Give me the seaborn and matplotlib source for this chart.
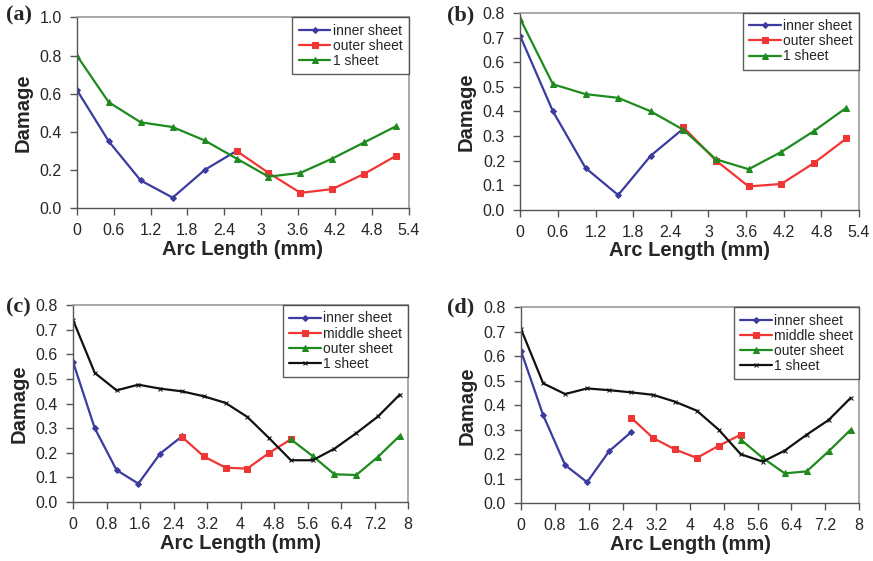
import numpy as np
import pandas as pd
import matplotlib
matplotlib.use("Agg")
import matplotlib.pyplot as plt
import seaborn as sns

sns.set_style("white")
plt.rcParams['font.family'] = ['Liberation Sans', 'DejaVu Sans']

# ---------------- data ----------------
x_short = [0, 0.52, 1.04, 1.56, 2.08, 2.6, 3.12, 3.64, 4.16, 4.68, 5.2]
x_long = [0, 0.52, 1.04, 1.56, 2.08, 2.6, 3.12, 3.64, 4.16, 4.68, 5.2,
          5.72, 6.24, 6.76, 7.28, 7.8]

# panel (a)
a_inner = [0.62, 0.35, 0.145, 0.055, 0.20, 0.30]
a_outer = [0.30, 0.185, 0.08, 0.10, 0.18, 0.275]
a_one = [0.80, 0.555, 0.45, 0.425, 0.355, 0.26, 0.165, 0.185, 0.26, 0.345, 0.43]

# panel (b)
b_inner = [0.705, 0.40, 0.17, 0.06, 0.22, 0.33]
b_outer = [0.335, 0.20, 0.095, 0.105, 0.19, 0.29]
b_one = [0.775, 0.51, 0.47, 0.455, 0.40, 0.325, 0.205, 0.165, 0.235, 0.32, 0.415]

# panel (c)
c_inner = [0.57, 0.30, 0.13, 0.075, 0.197, 0.267]
c_middle = [0.265, 0.186, 0.14, 0.136, 0.20, 0.255]
c_outer = [0.255, 0.187, 0.113, 0.11, 0.184, 0.27]
c_one = [0.74, 0.525, 0.454, 0.477, 0.461, 0.45, 0.43, 0.403, 0.346, 0.26,
         0.17, 0.17, 0.217, 0.28, 0.348, 0.437]

# panel (d)
d_inner = [0.62, 0.36, 0.156, 0.086, 0.212, 0.29]
d_middle = [0.35, 0.267, 0.22, 0.185, 0.235, 0.28]
d_outer = [0.26, 0.185, 0.122, 0.13, 0.212, 0.30]
d_one = [0.71, 0.49, 0.446, 0.469, 0.462, 0.453, 0.443, 0.415, 0.378, 0.30,
         0.20, 0.17, 0.215, 0.28, 0.34, 0.43]

xticks_ab = [0, 0.6, 1.2, 1.8, 2.4, 3, 3.6, 4.2, 4.8, 5.4]
xticklabels_ab = ["0", "0.6", "1.2", "1.8", "2.4", "3", "3.6", "4.2", "4.8", "5.4"]
xticks_cd = [0, 0.8, 1.6, 2.4, 3.2, 4, 4.8, 5.6, 6.4, 7.2, 8]
xticklabels_cd = ["0", "0.8", "1.6", "2.4", "3.2", "4", "4.8", "5.6", "6.4", "7.2", "8"]

BLUE = "#3B3BA0"
RED = "#F03535"
GREEN = "#1F8A1F"
BLACK = "#111111"

fig = plt.figure(figsize=(8.73, 5.61), dpi=100)

positions = {
    "a": [0.088, 0.629, 0.380, 0.340],
    "b": [0.596, 0.626, 0.388, 0.351],
    "c": [0.0836, 0.105, 0.384, 0.351],
    "d": [0.597, 0.103, 0.387, 0.349],
}


def series(ax, xs, ys, color, marker, label, ms):
    df = pd.DataFrame({"x": xs, "y": ys})
    sns.lineplot(data=df, x="x", y="y", ax=ax, color=color, marker=marker,
                 markersize=ms, markeredgecolor=color, markerfacecolor=color,
                 linewidth=1.6, label=label, sort=False)


def style(ax, xmax, xticks, xticklabels, ymax, yticks, yfmt):
    ax.set_xlim(0, xmax)
    ax.set_ylim(0, ymax)
    ax.set_xticks(xticks)
    ax.set_xticklabels(xticklabels)
    ax.set_yticks(yticks)
    ax.set_yticklabels([yfmt.format(v) for v in yticks])
    ax.tick_params(axis="x", direction="out", length=5, width=1,
                   color="#555555", labelsize=11.5, pad=6, bottom=True)
    ax.tick_params(axis="y", direction="out", length=5, width=1,
                   color="#555555", labelsize=11.5, pad=6, left=True)
    for s in ["left", "bottom"]:
        ax.spines[s].set_color("#555555")
        ax.spines[s].set_linewidth(1.0)
    for s in ["top", "right"]:
        ax.spines[s].set_color("#9a9a9a")
        ax.spines[s].set_linewidth(1.2)
    ax.set_xlabel("Arc Length (mm)", fontsize=14.5, fontweight="bold", labelpad=1)
    ax.set_ylabel("Damage", fontsize=14.5, fontweight="bold", labelpad=5)
    leg = ax.legend(loc="upper right", bbox_to_anchor=(1.0, 1.0), borderaxespad=0,
                    fontsize=10, frameon=True, fancybox=False, handlelength=2.3,
                    handletextpad=0.15, labelspacing=0.08, borderpad=0.45)
    leg.get_frame().set_edgecolor("#333333")
    leg.get_frame().set_linewidth(1.0)


# (a)
ax = fig.add_axes(positions["a"])
series(ax, x_short[:6], a_inner, BLUE, "D", "inner sheet", 3)
series(ax, x_short[5:], a_outer, RED, "s", "outer sheet", 4)
series(ax, x_short, a_one, GREEN, "^", "1 sheet", 5)
style(ax, 5.4, xticks_ab, xticklabels_ab, 1.0, [0, 0.2, 0.4, 0.6, 0.8, 1.0], "{:.1f}")

# (b)
ax = fig.add_axes(positions["b"])
series(ax, x_short[:6], b_inner, BLUE, "D", "inner sheet", 3)
series(ax, x_short[5:], b_outer, RED, "s", "outer sheet", 4)
series(ax, x_short, b_one, GREEN, "^", "1 sheet", 5)
style(ax, 5.4, xticks_ab, xticklabels_ab, 0.8, [0, 0.1, 0.2, 0.3, 0.4, 0.5, 0.6, 0.7, 0.8], "{:.1f}")

# (c)
ax = fig.add_axes(positions["c"])
series(ax, x_long[:6], c_inner, BLUE, "D", "inner sheet", 3)
series(ax, x_long[5:11], c_middle, RED, "s", "middle sheet", 4)
series(ax, x_long[10:], c_outer, GREEN, "^", "outer sheet", 5)
series(ax, x_long, c_one, BLACK, "x", "1 sheet", 3)
style(ax, 8, xticks_cd, xticklabels_cd, 0.8, [0, 0.1, 0.2, 0.3, 0.4, 0.5, 0.6, 0.7, 0.8], "{:.1f}")

# (d)
ax = fig.add_axes(positions["d"])
series(ax, x_long[:6], d_inner, BLUE, "D", "inner sheet", 3)
series(ax, x_long[5:11], d_middle, RED, "s", "middle sheet", 4)
series(ax, x_long[10:], d_outer, GREEN, "^", "outer sheet", 5)
series(ax, x_long, d_one, BLACK, "x", "1 sheet", 3)
style(ax, 8, xticks_cd, xticklabels_cd, 0.8, [0, 0.1, 0.2, 0.3, 0.4, 0.5, 0.6, 0.7, 0.8], "{:.1f}")

# panel letters
for lab, (fx, fy) in {"(a)": (0.007, 0.972), "(b)": (0.512, 0.972),
                      "(c)": (0.007, 0.452), "(d)": (0.512, 0.452)}.items():
    fig.text(fx, fy, lab, fontsize=16, fontweight="bold",
             family=["Liberation Serif", "DejaVu Serif"], ha="left", va="center")

fig.savefig("out.png", dpi=100)
